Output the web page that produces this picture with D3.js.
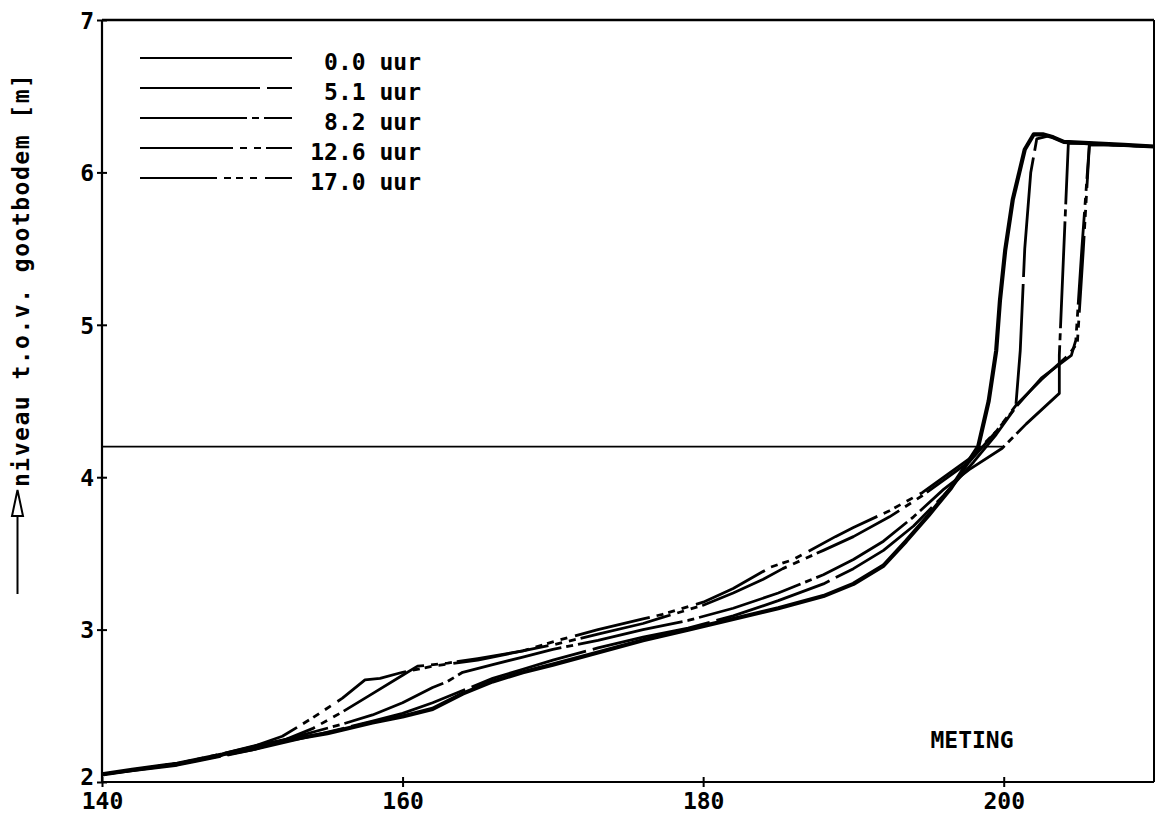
<!DOCTYPE html>
<html>
<head>
<meta charset="utf-8">
<script src="https://cdn.jsdelivr.net/npm/d3@7/dist/d3.min.js"></script>
<style>
  html, body { margin: 0; padding: 0; background: #fff; }
  svg { display: block; }
  text { font-family: "DejaVu Sans Mono", "Liberation Mono", monospace; fill: #000; }
</style>
</head>
<body>
<svg id="chart" width="1163" height="817"></svg>
<script>
// ---- data ----
const xTicks = [140, 160, 180, 200];
const yTicks = [2, 3, 4, 5, 6, 7];
const seriesNames = ["0.0 uur", "5.1 uur", "8.2 uur", "12.6 uur", "17.0 uur"];

const x00 = [140,142,145,148,150,152,155,158,160,162,164,166,168,170,173,176,179,182,185,188,190,192,193.5,195,196.5,198.3,199,199.5,199.75,200.1,200.6,201.4,202,202.6,203.3,204,206,208,210];
const y00 = [2.05,2.08,2.12,2.18,2.23,2.27,2.32,2.39,2.43,2.48,2.58,2.66,2.72,2.77,2.85,2.93,3.0,3.07,3.14,3.22,3.3,3.42,3.58,3.75,3.93,4.2,4.5,4.83,5.16,5.49,5.82,6.15,6.25,6.25,6.23,6.2,6.19,6.18,6.17];

const x51 = [140,145,150,153,156,158,160,162,164,166,168,170,173,176,179,182,185,188,190,192,194,196,198,199.5,200.8,201.1,201.4,201.8,202.2,203,204,210];
const y51 = [2.05,2.11,2.21,2.28,2.35,2.4,2.45,2.52,2.6,2.68,2.74,2.8,2.88,2.95,3.01,3.09,3.19,3.3,3.4,3.52,3.68,3.88,4.1,4.28,4.46,4.83,5.5,6.0,6.22,6.24,6.2,6.17];

const x82 = [140,145,150,153,156,158,160,162,163,164,166,168,170,173,176,179,182,185,188,190,192,194,196,197.7,199.9,201.5,203.7,203.7,204.0,204.3,205,210];
const y82 = [2.05,2.12,2.22,2.3,2.38,2.44,2.52,2.62,2.66,2.72,2.77,2.82,2.87,2.93,3.0,3.06,3.14,3.24,3.36,3.46,3.58,3.74,3.92,4.05,4.19,4.35,4.55,4.8,5.5,6.19,6.19,6.17];

const x126 = [140,145,150,152,154,156,158,160,161,163,165,168,170,173,176,177.3,180,182,184,185.3,188,190,192.4,194.6,197.7,199.5,200.8,202.5,204.5,204.8,205.2,205.7,207,210];
const y126 = [2.05,2.12,2.21,2.27,2.35,2.46,2.58,2.7,2.76,2.78,2.81,2.86,2.9,2.97,3.04,3.08,3.16,3.24,3.33,3.4,3.52,3.61,3.74,3.88,4.1,4.3,4.46,4.65,4.8,4.9,5.5,6.18,6.18,6.17];

const x170 = [140,145,150,152,154,156,157.5,158.5,160,162,165,168,170,173,176,177.3,180,182,184.5,186,188.8,190,192.4,194.6,197.7,199.5,200.8,202.5,204.3,204.9,205.3,205.7,207,210];
const y170 = [2.05,2.12,2.23,2.3,2.42,2.55,2.67,2.68,2.72,2.76,2.8,2.86,2.92,3.0,3.07,3.1,3.18,3.27,3.41,3.46,3.61,3.67,3.78,3.9,4.12,4.3,4.47,4.64,4.8,4.88,5.5,6.18,6.18,6.17];

const waterX = [140, 200];
const waterY = [4.2, 4.2];

// ---- build ----
const seriesX = [x00, x51, x82, x126, x170];
const seriesY = [y00, y51, y82, y126, y170];
const dashes = [null, "120,7", "107,5,7,5", "93,7,7,7,7,5", "77,7,7,5,7,7,7,8"];
const widths = [4.2, 2.8, 2.8, 2.8, 2.8];

const svg = d3.select("#chart");
const L = 102, R = 1154, T = 20, B = 782;
const x = d3.scaleLinear().domain([140, 210]).range([L, R]);
const y = d3.scaleLinear().domain([2, 7]).range([B, T]);

// frame: top and right
svg.append("line").attr("x1", L).attr("x2", R).attr("y1", T).attr("y2", T)
  .attr("stroke", "#000").attr("stroke-width", 2.5);
svg.append("line").attr("x1", R).attr("x2", R).attr("y1", T).attr("y2", B)
  .attr("stroke", "#000").attr("stroke-width", 2);

// x axis
const gx = svg.append("g").attr("transform", `translate(0,${B})`)
  .call(d3.axisBottom(x).tickValues(xTicks).tickFormat(d3.format("d")).tickSizeOuter(0).tickSizeInner(9));
gx.select(".domain").attr("stroke-width", 2.2).attr("d", `M${L},0H${R}`);
gx.selectAll(".tick line").attr("y1", -5).attr("y2", 5).attr("stroke-width", 2);
gx.selectAll(".tick text").attr("y", 11).attr("dy", "0.71em")
  .style("font-size", "23px").style("font-weight", "bold").style("font-family", '"DejaVu Sans Mono", monospace');

// y axis
const gy = svg.append("g").attr("transform", `translate(${L},0)`)
  .call(d3.axisLeft(y).tickValues(yTicks).tickFormat(d3.format("d")).tickSizeOuter(0).tickSizeInner(6));
gy.select(".domain").attr("stroke-width", 2.2).attr("d", `M0,${T}V${B}`);
gy.selectAll(".tick line").attr("x1", -5).attr("x2", 5).attr("stroke-width", 2);
gy.selectAll(".tick text").attr("x", -8).attr("dy", "0.36em")
  .style("font-size", "23px").style("font-weight", "bold").style("font-family", '"DejaVu Sans Mono", monospace');
gy.selectAll(".tick").filter(d => d === 2).select("text").attr("dy", "0.1em");

// water level line
svg.append("line")
  .attr("x1", x(waterX[0])).attr("x2", x(waterX[1]))
  .attr("y1", y(waterY[0])).attr("y2", y(waterY[1]))
  .attr("stroke", "#000").attr("stroke-width", 1.8);

// profiles
const line = d3.line().x(d => x(d[0])).y(d => y(d[1]));
seriesX.forEach((xs, i) => {
  const pts = xs.map((v, j) => [v, seriesY[i][j]]);
  svg.append("path").datum(pts)
    .attr("d", line)
    .attr("fill", "none")
    .attr("stroke", "#000")
    .attr("stroke-width", widths[i])
    .attr("stroke-linejoin", "round")
    .attr("stroke-dasharray", dashes[i]);
});

// legend
const legY = [58, 88, 118, 148, 178];
seriesNames.forEach((name, i) => {
  svg.append("line").attr("x1", 140).attr("x2", 292).attr("y1", legY[i]).attr("y2", legY[i])
    .attr("stroke", "#000").attr("stroke-width", 2).attr("stroke-dasharray", dashes[i]);
  svg.append("text").attr("x", 421).attr("y", legY[i] + 12)
    .attr("text-anchor", "end")
    .style("font-size", "23px").style("font-weight", "bold")
    .text(name);
});

// METING label
svg.append("text").attr("x", 972).attr("y", 748).attr("text-anchor", "middle")
  .style("font-size", "23px").style("font-weight", "bold").text("METING");

// y-axis title with arrow
svg.append("text")
  .attr("transform", "translate(29,487) rotate(-90)")
  .attr("text-anchor", "start")
  .style("font-size", "23px").style("font-weight", "bold")
  .style("letter-spacing", "1.5px")
  .text("niveau t.o.v. gootbodem [m]");
svg.append("line").attr("x1", 17.5).attr("x2", 17.5).attr("y1", 594).attr("y2", 516)
  .attr("stroke", "#000").attr("stroke-width", 2);
svg.append("path").attr("d", "M12,516 L23,516 L17.5,490 Z")
  .attr("fill", "#fff").attr("stroke", "#000").attr("stroke-width", 2);
</script>
</body>
</html>
